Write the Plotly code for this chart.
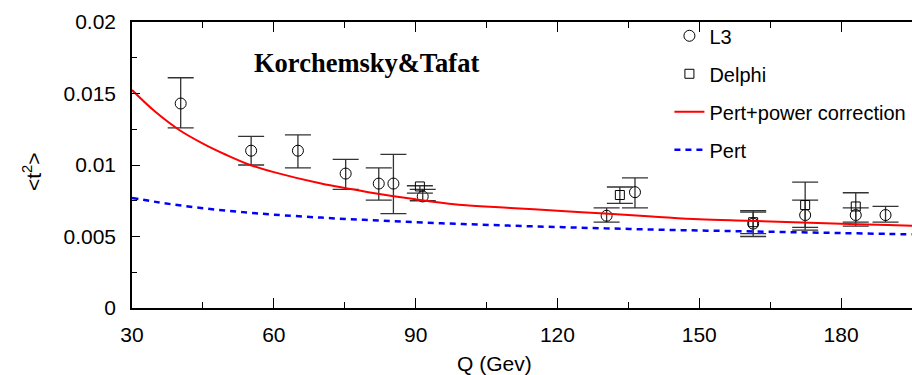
import plotly.graph_objects as go

# ---- data ----
l3_q = [40.3, 55.2, 65.1, 75.2, 82.2, 85.3, 91.5, 130.4, 136.4, 161.4, 172.4, 183.1, 189.4]
l3_val = [0.0143, 0.0110, 0.0110, 0.0094, 0.0087, 0.0087, 0.0078, 0.00645, 0.0081, 0.0059, 0.0065, 0.0065, 0.0065]
l3_hi = [0.0161, 0.0120, 0.0121, 0.0104, 0.0098, 0.01075, 0.0083, 0.0070, 0.0091, 0.0068, 0.0088, 0.0070, 0.0071]
l3_lo = [0.0126, 0.0100, 0.0098, 0.0083, 0.00755, 0.0066, 0.0075, 0.0060, 0.0070, 0.0050, 0.00545, 0.0060, 0.0060]

delphi_q = [90.9, 133.2, 161.4, 172.4, 183.1]
delphi_val = [0.0085, 0.0079, 0.0060, 0.0072, 0.0071]
delphi_hi = [0.00855, 0.00846, 0.0067, 0.00755, 0.00806]
delphi_lo = [0.00804, 0.00732, 0.0052, 0.00564, 0.00573]

curve_q = [30, 35, 40, 45, 50, 55, 60, 70, 80, 90, 100, 110, 120, 130, 140, 150, 160, 170, 180, 190, 195]
pert_power = [0.01524, 0.0137, 0.01245, 0.0115, 0.0107, 0.0100, 0.0095, 0.0087, 0.0081, 0.0076, 0.0072,
              0.0070, 0.0068, 0.0066, 0.0064, 0.0062, 0.0061, 0.0060, 0.0059, 0.0058, 0.00576]
pert = [0.00770, 0.00742, 0.00718, 0.00698, 0.00681, 0.00666, 0.00653, 0.00632, 0.00615, 0.00600, 0.00587,
        0.00576, 0.00566, 0.00557, 0.00549, 0.00542, 0.00536, 0.00530, 0.00524, 0.00518, 0.00515]

x_ticks = [30, 60, 90, 120, 150, 180]
y_ticks = [0, 0.005, 0.01, 0.015, 0.02]
y_ticktext = ["0", "0.005", "0.01", "0.015", "0.02"]

FONT = "Liberation Sans Narrow, Arial Narrow, Liberation Sans, Arial, sans-serif"

fig = go.Figure()

fig.add_trace(go.Scatter(
    x=l3_q, y=l3_val, mode="markers", name="L3", legendgroup="a",
    marker=dict(symbol="circle-open", size=11, color="black", line=dict(width=1)),
    error_y=dict(type="data", symmetric=False,
                 array=[h - v for h, v in zip(l3_hi, l3_val)],
                 arrayminus=[v - l for v, l in zip(l3_val, l3_lo)],
                 color="#333333", thickness=1.3, width=13),
))
fig.add_trace(go.Scatter(
    x=delphi_q, y=delphi_val, mode="markers", name="Delphi", legendgroup="b",
    marker=dict(symbol="square-open", size=9, color="black", line=dict(width=1)),
    error_y=dict(type="data", symmetric=False,
                 array=[h - v for h, v in zip(delphi_hi, delphi_val)],
                 arrayminus=[v - l for v, l in zip(delphi_val, delphi_lo)],
                 color="#333333", thickness=1.3, width=13),
))
fig.add_trace(go.Scatter(
    x=curve_q, y=pert_power, mode="lines", name="Pert+power correction", legendgroup="c",
    line=dict(color="#ff0000", width=2, shape="spline"),
))
fig.add_trace(go.Scatter(
    x=curve_q, y=pert, mode="lines", name="Pert", legendgroup="d",
    line=dict(color="#0000ff", width=2.5, dash="6px,5px", shape="spline"),
))

fig.update_layout(
    width=912, height=375,
    margin=dict(l=132, r=0, t=22, b=67),
    paper_bgcolor="white", plot_bgcolor="white",
    font=dict(family=FONT, size=21, color="black"),
    showlegend=True,
    legend=dict(x=0.689, y=1.02, xanchor="left", yanchor="top",
                bgcolor="rgba(0,0,0,0)", font=dict(family=FONT, size=20),
                tracegroupgap=9, traceorder="grouped"),
    xaxis=dict(range=[30, 195], tickvals=x_ticks, showgrid=False, zeroline=False,
               showline=True, linecolor="black", linewidth=1.5, mirror="ticks",
               ticks="inside", ticklen=10, tickcolor="black", tickwidth=1,
               ticklabelstandoff=7,
               minor=dict(dtick=15, tick0=30, ticks="inside", ticklen=6, tickcolor="black", showgrid=False)),
    yaxis=dict(range=[0, 0.02], tickvals=y_ticks, ticktext=y_ticktext, showgrid=False, zeroline=False,
               showline=True, linecolor="black", linewidth=1.5,
               ticks="inside", ticklen=8, tickcolor="black", tickwidth=1,
               ticklabelstandoff=10,
               minor=dict(dtick=0.0025, tick0=0, ticks="inside", ticklen=5, tickcolor="black", showgrid=False)),
    annotations=[
        dict(text="<b>Korchemsky&amp;Tafat</b>", xref="paper", yref="paper", x=(366 - 132) / 780, y=(308 - 63) / 286,
             xanchor="center", yanchor="middle", showarrow=False,
             font=dict(family="Liberation Serif, Times New Roman, serif", size=26.5, color="black")),
        dict(text="Q (Gev)", xref="paper", yref="paper", x=(494 - 132) / 780, y=(308 - 363) / 286,
             xanchor="center", yanchor="middle", showarrow=False, font=dict(family=FONT, size=21)),
        dict(text="&lt;t<sup>2</sup>&gt;", xref="paper", yref="paper", x=(32 - 132) / 780, y=(308 - 172) / 286,
             xanchor="center", yanchor="middle", showarrow=False, textangle=-90,
             font=dict(family=FONT, size=21)),
    ],
)

fig.write_html("out.html")
